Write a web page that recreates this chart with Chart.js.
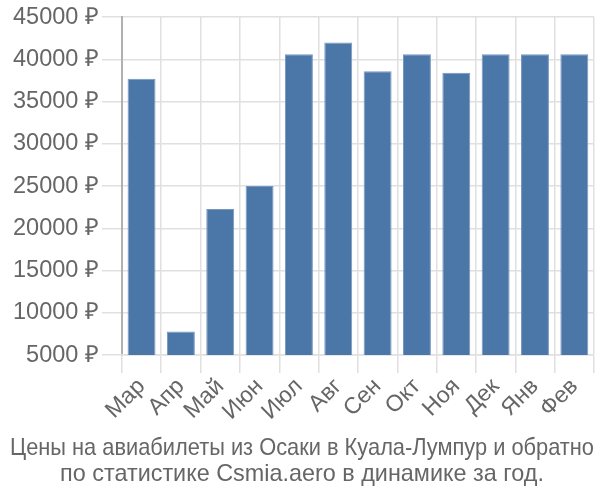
<!DOCTYPE html>
<html>
<head>
<meta charset="utf-8">
<script src="https://cdn.jsdelivr.net/npm/chart.js@4/dist/chart.umd.min.js"></script>
<style>
    html, body { margin: 0; padding: 0; background: #fff; }
    #wrap { width: 600px; height: 500px; }
</style>
</head>
<body>
<div id="wrap"><canvas id="priceChart"></canvas></div>
<script>
// data
const months = ['Мар', 'Апр', 'Май', 'Июн', 'Июл', 'Авг', 'Сен', 'Окт', 'Ноя', 'Дек', 'Янв', 'Фев'];
const prices = [37700, 7800, 22300, 25000, 40600, 42000, 38600, 40600, 38400, 40600, 40600, 40600];
const titleLines = [
    'Цены на авиабилеты из Осаки в Куала-Лумпур и обратно',
    'по статистике Csmia.aero в динамике за год.'
];

const textColor = '#666';
const gridColor = '#e0e0e0';

const ctx = document.getElementById('priceChart').getContext('2d');
new Chart(ctx, {
    type: 'bar',
    data: {
        labels: months,
        datasets: [{
            data: prices,
            backgroundColor: '#4a77a8',
            borderColor: '#7797bf',
            borderWidth: 1,
            barPercentage: 0.71,
            categoryPercentage: 1
        }]
    },
    options: {
        responsive: true,
        maintainAspectRatio: false,
        animation: false,
        layout: { padding: { top: 2, right: 6, left: 10, bottom: 12 } },
        scales: {
            y: {
                min: 5000,
                max: 45000,
                ticks: {
                    stepSize: 5000,
                    color: textColor,
                    font: { family: 'Liberation Sans, Arial', size: 23.5 },
                    padding: 3,
                    callback: v => v + ' ₽'
                },
                grid: { color: gridColor, lineWidth: 1.5, tickLength: 20 },
                border: { color: '#b0b0b0', width: 2 }
            },
            x: {
                ticks: {
                    color: textColor,
                    font: { family: 'Liberation Sans, Arial', size: 23 },
                    minRotation: 45,
                    maxRotation: 45,
                    autoSkip: false,
                    padding: 0
                },
                grid: { color: gridColor, lineWidth: 1.5, offset: true, tickLength: 18 },
                border: { color: gridColor, width: 1.5 }
            }
        },
        plugins: {
            legend: { display: false },
            tooltip: { enabled: false },
            title: {
                display: true,
                position: 'bottom',
                text: titleLines,
                color: textColor,
                font: { family: 'Liberation Sans Narrow, Liberation Sans', size: 23.4, weight: 'normal', lineHeight: 1.12 },
                padding: { top: 10, bottom: 0 }
            }
        }
    }
});
</script>
</body>
</html>
